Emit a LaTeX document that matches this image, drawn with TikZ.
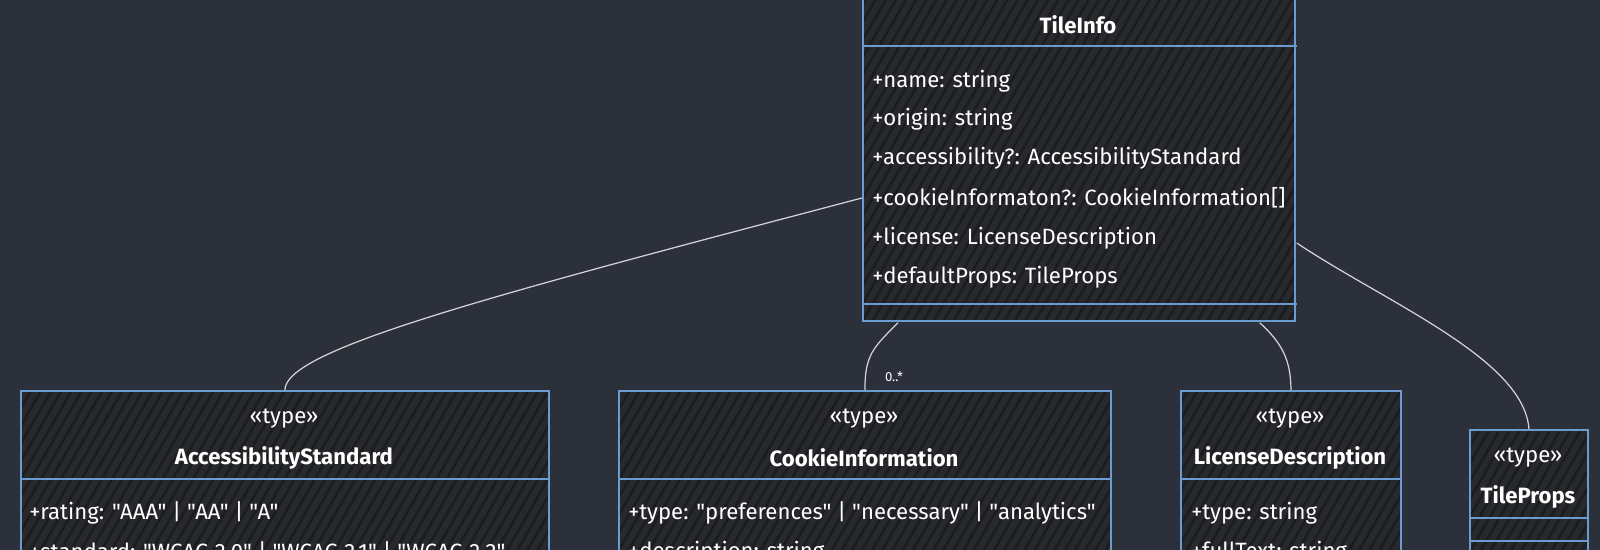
\documentclass[tikz,border=0pt]{standalone}
\usepackage{fontspec}
\setmainfont{Fira Sans}[Ligatures=TeXOff]
\usepackage{tikz}
\usetikzlibrary{positioning, calc, patterns.meta}
\definecolor{bgslate}{HTML}{2B303B}
\definecolor{boxdark}{HTML}{27292D}
\definecolor{hatch}{HTML}{1C1D1F}
\definecolor{edgeblue}{HTML}{6B9BD1}
\definecolor{linkgrey}{HTML}{D4D4D4}

\begin{document}
\begin{tikzpicture}[x=0.02cm, y=-0.02cm,
    classbox/.style={rectangle, draw=edgeblue, line width=1.1pt, preaction={fill=boxdark},
        pattern={Lines[angle=60, distance=5pt, line width=1.6pt]}, pattern color=hatch,
        inner sep=0pt, anchor=north west},
    divider/.style={draw=edgeblue, line width=1.1pt},
    member/.style={anchor=west, text=white, inner sep=0pt, font=\fontsize{12.6}{14}\selectfont},
    stereo/.style={text=white, inner sep=0pt, font=\fontsize{12.6}{14}\selectfont},
    heading/.style={text=white, inner sep=0pt, font=\fontsize{12.6}{14}\selectfont\bfseries},
    link/.style={draw=linkgrey, line width=0.7pt},
    mult/.style={text=white, inner sep=0pt, font=\fontsize{7.5}{8}\selectfont}]
    \path[fill=bgslate, use as bounding box] (0,0) rectangle (1600,550);
    \clip (0,0) rectangle (1600,550);

    % TileInfo
    \node[classbox, minimum width=8.64cm, minimum height=6.52cm] (tile) at (862,-6) {};
    \node[heading] (tname) at (1078,25) {TileInfo};
    \draw[divider] (tile.west |- 0,46) -- (tile.east |- 0,46);
    \node[member] (tn) at (872,81) {+name: string};
    \node[member] (to) at (872,119) {+origin: string};
    \node[member] (ta) at (872,158) {+accessibility?: AccessibilityStandard};
    \node[member] (tc) at (872,198) {+cookieInformaton?: CookieInformation[]};
    \node[member] (tl) at (872,238) {+license: LicenseDescription};
    \node[member] (tp) at (872,277) {+defaultProps: TileProps};
    \draw[divider] (tile.west |- 0,304) -- (tile.east |- 0,304);

    % AccessibilityStandard
    \node[classbox, minimum width=10.56cm, minimum height=4.6cm] (access) at (20,390) {};
    \node[stereo] (astereo) at (284,419) {«type»};
    \node[heading] (aname) at (284,458) {AccessibilityStandard};
    \draw[divider] (access.west |- 0,479) -- (access.east |- 0,479);
    \node[member] (ar) at (29,513) {+rating: "AAA" | "AA" | "A"};
    \node[member] (as) at (29,552) {+standard: "WCAG 2.0" | "WCAG 2.1" | "WCAG 2.2"};

    % CookieInformation
    \node[classbox, minimum width=9.84cm, minimum height=4.6cm] (cookie) at (618,390) {};
    \node[stereo] (cstereo) at (864,419) {«type»};
    \node[heading] (cname) at (864,458) {CookieInformation};
    \draw[divider] (cookie.west |- 0,479) -- (cookie.east |- 0,479);
    \node[member] (ct) at (628,513) {+type: "preferences" | "necessary" | "analytics"};
    \node[member] (cd) at (628,552) {+description: string};

    % LicenseDescription
    \node[classbox, minimum width=4.4cm, minimum height=4.6cm] (license) at (1180,390) {};
    \node[stereo] (lstereo) at (1290,419) {«type»};
    \node[heading] (lname) at (1290,458) {LicenseDescription};
    \draw[divider] (license.west |- 0,479) -- (license.east |- 0,479);
    \node[member] (lt) at (1191,513) {+type: string};
    \node[member] (lf) at (1191,552) {+fullText: string};

    % TileProps
    \node[classbox, minimum width=2.36cm, minimum height=3.82cm] (props) at (1469,429) {};
    \node[stereo] (pstereo) at (1528,458) {«type»};
    \node[heading] (pname) at (1528,497) {TileProps};
    \draw[divider] (props.west |- 0,518) -- (props.east |- 0,518);
    \draw[divider] (props.west |- 0,541) -- (props.east |- 0,541);

    % links
    \draw[link] (tile.west |- tc) .. controls +(-380,100) and +(0,-40) .. (access.north);
    \draw[link] ($(tile.south west)+(36,0)$) .. controls +(-25,25) and +(0,-35) .. (cookie.north);
    \node[mult] (many) at (894,377) {0..*};
    \draw[link] ($(tile.south east)+(-37,0)$) .. controls +(22,20) and +(0,-30) .. (license.north);
    \draw[link] ($(tile.north east)+(0,249)$) .. controls +(90,60) and +(-5,-70) .. (props.north);
\end{tikzpicture}
\end{document}
